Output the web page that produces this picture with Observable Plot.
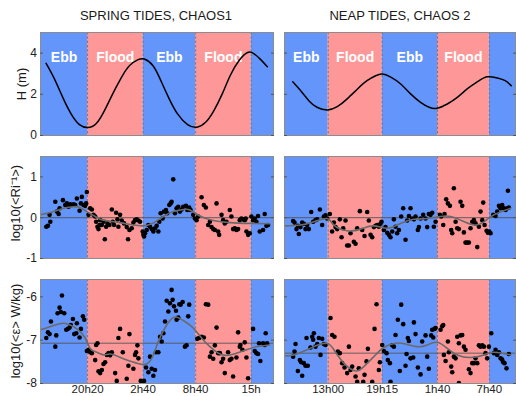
<!DOCTYPE html>
<html><head><meta charset="utf-8">
<script src="https://cdn.jsdelivr.net/npm/d3@7"></script>
<script src="https://cdn.jsdelivr.net/npm/@observablehq/plot@0.6"></script>
<style>
body{margin:0;background:#fff;}
#chart{position:relative;width:516px;height:396px;font-family:"Liberation Sans",Arial,sans-serif;overflow:hidden;}
#chart svg{position:absolute;}
</style></head><body><div id="chart"></div>
<script>
// ---------- DATA ----------
const titles = ["SPRING TIDES, CHAOS1", "NEAP TIDES, CHAOS 2"];
const yLabels = ["H (m)", "log10(<Ri\u207B\u00B9>)", "log10(<\u03B5> W/kg)"];
const phases = ["Ebb", "Flood", "Ebb", "Flood", "Ebb"];

// time axis in hours (from start of first day)
const leftDomain = [14.96, 41.55];
const leftTicks = [20 + 20/60, 26 + 40/60, 32 + 40/60, 39];
const leftTickLabels = ["20h20", "2h40", "8h40", "15h"];
const rightDomain = [7.94, 34.7];
const rightTicks = [13, 19.25, 25 + 40/60, 31 + 40/60];
const rightTickLabels = ["13h00", "19h15", "1h40", "7h40"];

const hTicks = [0, 2, 4];
const riTicks = [-1, 0, 1];
const epsTicks = [-8, -7, -6];
const riMean = [0, 0];
const epsMean = [-7.07, -7.30];

// tide height H (m)
const tideLeft = [[15.6,3.50],[16.56,2.74],[17.5,1.85],[18.45,1.05],[19.4,0.53],[20.35,0.39],[21.3,0.57],[22.26,1.21],[23.2,2.02],[24.2,2.82],[25.1,3.39],[26.1,3.68],[26.8,3.71],[27.8,3.39],[28.7,2.66],[29.65,1.78],[30.6,1.05],[31.75,0.53],[32.8,0.40],[33.8,0.64],[34.75,1.21],[35.7,2.02],[36.6,2.90],[37.6,3.63],[38.6,4.03],[39.3,3.98],[40.0,3.72],[40.85,3.34]];
const tideRight = [[8.9,2.61],[9.8,2.18],[10.76,1.69],[11.7,1.37],[12.9,1.24],[14.05,1.40],[15.2,1.78],[16.4,2.26],[17.5,2.66],[18.5,2.90],[19.25,2.98],[20.2,2.85],[21.4,2.50],[22.55,2.02],[23.7,1.61],[24.7,1.37],[25.6,1.32],[26.8,1.53],[27.95,1.85],[29.1,2.26],[30.3,2.61],[31.4,2.85],[32.6,2.79],[33.5,2.66],[34.2,2.42]];

// log10(<Ri^-1>) samples
const riLeft = [[15.62,-0.22],[15.81,-0.20],[16.08,-0.10],[16.0,0.07],[16.65,0.39],[16.84,0.15],[17.03,0.09],[17.14,0.23],[17.52,0.43],[17.78,0.31],[17.97,0.35],[18.16,0.27],[18.35,0.33],[18.54,0.31],[18.73,0.33],[18.92,0.31],[19.11,0.47],[19.42,0.17],[19.57,0.35],[19.68,0.51],[19.87,0.31],[20.06,0.29],[20.25,0.63],[20.17,0.35],
[20.44,0.07],[20.63,0.23],[20.82,0.20],[21.01,0.07],[21.2,0.03],[21.31,-0.10],[21.46,-0.22],[21.58,-0.28],[21.69,-0.18],[21.77,-0.06],[21.96,-0.18],[22.15,-0.10],[22.3,-0.53],[22.45,-0.22],[22.6,-0.14],[22.83,-0.18],[23.1,0.20],[23.21,-0.10],[23.36,-0.18],[23.59,0.12],[23.74,-0.04],[23.85,-0.22],[24.04,0.07],[24.23,-0.07],[24.5,-0.14],[24.8,-0.23],[24.95,-0.53],[25.11,-0.30],[25.37,-0.26],[25.56,-0.12],[25.75,-0.06],[25.94,-0.04],[26.13,-0.07],[26.32,-0.10],
[26.62,-0.34],[26.7,-0.42],[26.78,-0.46],[26.89,-0.38],[27.08,-0.30],[27.27,-0.18],[27.46,-0.22],[27.65,-0.28],[27.84,-0.34],[28.03,-0.26],[28.22,-0.20],[28.41,-0.34],[28.52,-0.10],[28.67,0.11],[28.9,-0.02],[29.05,0.15],[29.28,0.19],[29.43,0.11],[29.66,0.31],[29.81,0.35],[29.92,0.39],[30.11,0.94],[30.3,0.11],[30.49,0.23],[30.68,0.27],[30.87,0.15],[31.06,0.20],[31.25,0.27],[31.56,0.29],[31.71,0.19],[31.93,0.25],[32.09,0.19],
[32.39,0.07],[32.58,-0.02],[32.77,-0.06],[32.96,0.03],[33.34,0.50],[33.6,0.31],[33.83,0.25],[34.1,-0.18],[34.29,-0.10],[34.48,-0.23],[34.67,-0.28],[34.86,-0.30],[35.05,0.35],[35.24,-0.34],[35.35,-0.42],[35.62,0.07],[35.8,-0.06],[35.99,-0.14],[36.18,-0.10],[36.56,0.19],[36.75,0.03],[36.94,-0.28],[37.13,-0.26],[37.32,-0.30],[37.51,-0.28],[37.7,-0.06],[37.89,-0.02],[38.08,-0.04],[38.27,-0.06],[38.38,-0.02],[38.46,-0.34],[38.65,-0.42],[38.84,-0.38],
[39.03,0.03],[39.22,-0.06],[39.41,-0.02],[39.6,-0.10],[39.79,0.04],[39.98,-0.34],[40.36,-0.30],[40.55,0.09],[40.74,-0.20],[40.93,-0.18]];
const riRight = [[8.94,-0.08],[9.1,-0.12],[9.33,-0.28],[9.49,-0.20],[9.6,-0.40],[9.79,-0.23],[9.99,-0.12],[10.18,-0.15],[10.37,-0.28],[10.57,-0.18],[10.76,-0.28],[11.03,0.14],[11.26,-0.10],[11.53,-0.06],[11.73,-0.04],[12.04,0.20],[12.3,-0.18],[12.5,0.03],[12.69,0.06],[12.88,-0.02],
[13.19,0.09],[13.46,-0.34],[13.66,-0.12],[13.85,-0.23],[14.04,-0.28],[14.35,-0.04],[14.55,-0.48],[14.74,-0.26],[15.01,-0.07],[15.2,-0.68],[15.4,-0.68],[15.59,-0.38],[15.97,-0.59],[16.17,-0.64],[16.36,-0.26],[16.67,0.16],[16.94,-0.30],[17.21,-0.45],[17.52,0.14],[17.71,-0.07],[17.91,-0.42],[18.1,-0.48],[18.29,-0.23],[18.49,-0.20],[18.68,-0.18],[18.87,-0.22],[19.06,-0.15],[19.18,-0.10],
[19.45,-0.30],[19.64,-0.23],[19.84,-0.37],[20.03,-0.42],[20.22,-0.48],[20.42,-0.34],[20.61,-0.04],[20.8,-0.22],[20.99,-0.38],[21.19,-0.30],[21.46,0.03],[21.69,0.23],[21.96,-0.54],[22.15,-0.07],[22.35,0.04],[22.54,0.23],[22.73,-0.02],[22.93,-0.04],[23.12,0.03],[23.39,-0.30],[23.51,-0.23],[23.7,-0.02],[24.01,0.07],[24.28,-0.02],[24.47,-0.23],[24.66,0.09],[24.86,0.07],[25.05,0.12],[25.24,-0.22],[25.44,-0.10],
[25.94,0.07],[26.09,0.03],[26.33,-0.18],[26.48,0.09],[26.67,0.45],[26.87,0.35],[27.1,0.29],[27.25,-0.30],[27.37,-0.38],[27.56,0.72],[27.76,-0.10],[27.95,-0.26],[28.14,-0.28],[28.33,0.39],[28.53,0.29],[28.72,-0.36],[28.91,-0.61],[29.11,-0.61],[29.3,-0.61],[29.49,-0.26],[29.69,-0.10],[29.88,-0.06],[30.07,-0.14],[30.27,-0.72],[30.46,-0.22],[30.65,0.15],[30.85,-0.06],[30.96,0.37],[31.12,-0.18],[31.35,-0.32],[31.5,-0.37],[31.66,-0.34],[31.81,-0.38],
[32.12,0.07],[32.39,0.04],[32.58,0.15],[32.78,0.29],[32.97,0.23],[33.16,0.31],[33.36,0.23],[33.55,0.19],[33.74,0.23],[33.93,0.25],[33.82,0.66]];
const riSmoothLeft = [[14.96,0.07],[16.46,0.15],[17.6,0.23],[18.73,0.27],[19.49,0.25],[20.25,0.15],[21.2,0.03],[22.15,-0.06],[24.04,-0.12],[25.56,-0.18],[26.62,-0.20],[27.65,-0.15],[28.98,0.03],[30.11,0.15],[31.25,0.20],[32.01,0.19],[33.15,0.04],[34.67,-0.07],[36.56,-0.12],[38.84,-0.14],[41.12,-0.15]];
const riSmoothRight = [[7.94,-0.20],[9.79,-0.18],[11.34,-0.10],[12.88,-0.02],[13.66,-0.18],[15.2,-0.32],[16.75,-0.28],[18.29,-0.20],[19.84,-0.26],[21.38,-0.14],[22.93,-0.04],[24.47,-0.02],[26.02,0.03],[27.18,0.03],[28.33,-0.06],[29.88,-0.18],[31.04,-0.10],[32.2,0.07],[34.13,0.23]];

// log10(<eps>) samples
const epsLeft = [[15.62,-6.95],[15.81,-6.82],[16.0,-6.86],[16.15,-6.57],[16.65,-7.15],[16.76,-6.89],[16.91,-6.38],[17.14,-6.25],[17.41,-5.97],[17.29,-6.35],[17.67,-6.38],[17.9,-6.76],[18.09,-6.74],[18.28,-6.71],[18.43,-6.65],[18.66,-6.51],[18.81,-6.86],[19.04,-6.84],[19.11,-6.61],[19.42,-6.94],[19.57,-6.74],[19.8,-6.45],[19.95,-6.53],
[20.25,-7.25],[20.44,-7.22],[20.63,-7.28],[20.82,-7.30],[21.2,-7.46],[21.31,-7.11],[21.46,-7.07],[21.58,-7.72],[21.77,-7.76],[21.96,-7.69],[22.15,-7.55],[22.34,-7.51],[22.53,-7.34],[22.72,-7.30],[22.91,-7.35],[23.1,-7.28],[23.48,-7.76],[23.66,-7.94],[23.85,-6.95],[24.04,-6.74],[24.35,-7.28],[24.8,-7.89],[24.99,-7.59],[25.11,-6.86],[25.56,-7.66],[25.75,-7.34],[25.87,-7.28],[26.02,-7.12],[26.13,-7.42],[26.4,-7.94],
[26.62,-7.97],[26.78,-7.94],[27.0,-7.63],[27.27,-7.74],[27.46,-7.38],[27.65,-7.66],[27.84,-7.82],[28.03,-7.69],[28.14,-7.28],[28.41,-7.28],[28.6,-6.92],[28.79,-7.03],[28.98,-6.84],[29.17,-6.57],[29.36,-6.09],[29.55,-6.34],[29.73,-6.15],[29.92,-5.84],[30.04,-6.07],[30.19,-6.22],[30.42,-6.32],[30.49,-6.53],[30.68,-6.48],[30.8,-6.17],[30.95,-6.18],[31.18,-6.12],[31.44,-7.15],[31.63,-7.12],[31.82,-6.45],[31.93,-6.18],
[32.85,-6.97],[33.07,-6.95],[33.34,-6.92],[33.6,-6.94],[33.83,-6.17],[34.1,-6.18],[34.29,-7.38],[34.48,-7.28],[34.67,-7.43],[34.86,-7.12],[35.05,-6.71],[35.24,-7.30],[35.43,-7.30],[35.62,-7.51],[35.8,-7.43],[35.99,-7.76],[36.37,-7.28],[36.56,-7.46],[36.75,-7.43],[36.94,-7.84],[37.32,-7.40],[37.51,-6.82],[37.7,-7.15],[37.78,-7.11],[38.0,-7.22],[38.27,-7.05],[38.46,-7.40],[38.65,-7.88],
[39.22,-6.74],[39.41,-7.25],[39.6,-7.30],[39.79,-7.32],[39.9,-7.07],[40.05,-7.48],[40.36,-7.07],[40.55,-7.11],[40.66,-6.84],[40.81,-7.07]];
const epsRight = [[8.94,-7.38],[9.1,-7.26],[9.22,-7.09],[9.49,-7.71],[9.72,-7.46],[9.87,-7.51],[9.99,-7.82],[10.18,-7.53],[10.37,-7.59],[10.49,-6.95],[10.64,-7.59],[10.95,-7.17],[11.15,-6.92],[11.26,-6.99],[11.34,-6.84],[11.53,-7.15],[11.73,-7.09],[11.92,-6.95],[12.11,-7.34],[12.31,-6.97],[12.5,-7.09],[12.69,-7.11],
[13.27,-6.49],[13.46,-6.88],[13.73,-6.92],[14.12,-7.26],[14.35,-7.30],[14.62,-7.53],[14.89,-7.63],[15.2,-7.76],[15.4,-7.15],[15.59,-7.69],[15.78,-7.61],[16.17,-7.84],[16.36,-7.96],[16.55,-7.65],[17.06,-7.96],[17.21,-7.80],[17.44,-7.49],[17.6,-7.20],[18.1,-7.96],[18.37,-6.74],[18.6,-6.17],[18.87,-7.69],[18.99,-7.51],
[19.26,-7.11],[19.45,-7.25],[19.76,-7.30],[19.91,-7.46],[20.15,-7.53],[20.22,-7.96],[20.42,-7.12],[20.61,-7.15],[20.8,-6.88],[21.07,-6.53],[21.3,-7.71],[21.46,-6.18],[21.69,-6.63],[21.96,-7.59],[22.08,-7.32],[22.23,-6.95],[22.35,-7.02],[22.54,-7.42],[22.85,-7.40],[22.93,-6.59],[23.12,-6.86],[23.39,-7.63],[23.7,-7.79],[23.89,-7.03],[24.28,-6.89],[24.47,-7.38],[24.66,-7.66],[24.93,-6.89],[25.05,-6.76],[25.17,-6.94],[25.32,-6.74],[25.44,-6.72],
[26.02,-6.76],[26.21,-6.68],[26.33,-6.65],[26.4,-7.34],[26.6,-7.48],[26.87,-7.03],[26.98,-7.28],[27.25,-7.61],[27.37,-7.74],[27.56,-7.38],[27.76,-7.42],[27.95,-6.92],[28.14,-7.07],[28.14,-7.99],[28.33,-6.89],[28.53,-6.88],[28.72,-7.15],[28.91,-7.22],[29.3,-7.67],[29.49,-7.76],[29.69,-7.53],[29.88,-7.53],[30.07,-7.42],[30.27,-7.53],[30.46,-7.12],[30.65,-7.15],[30.85,-7.12],[31.04,-7.15],[31.23,-7.30],[31.42,-7.42],[31.62,-7.15],
[31.89,-6.84],[32.2,-7.30],[32.39,-7.22],[32.58,-7.34],[32.78,-7.28],[32.97,-7.42],[33.16,-7.45],[33.28,-7.51],[33.43,-7.53],[33.66,-7.65],[33.93,-7.32]];
const epsSmoothLeft = [[14.96,-6.76],[16.46,-6.66],[17.6,-6.61],[18.35,-6.65],[19.11,-6.74],[20.06,-6.95],[20.63,-7.19],[21.39,-7.28],[22.15,-7.34],[22.91,-7.32],[23.85,-7.38],[24.8,-7.46],[25.94,-7.53],[26.89,-7.56],[27.65,-7.42],[28.41,-7.03],[29.36,-6.65],[30.11,-6.48],[30.68,-6.48],[31.44,-6.57],[32.39,-6.72],[33.34,-6.95],[34.29,-7.15],[35.24,-7.30],[36.18,-7.35],[37.32,-7.30],[38.46,-7.22],[39.6,-7.15],[41.12,-7.11]];
const epsSmoothRight = [[7.94,-7.36],[9.02,-7.34],[10.57,-7.22],[11.73,-7.12],[12.88,-7.07],[13.66,-7.22],[14.81,-7.53],[16.17,-7.71],[17.13,-7.61],[18.29,-7.38],[19.45,-7.17],[20.8,-7.07],[21.96,-7.09],[23.31,-7.15],[24.47,-7.11],[25.63,-7.05],[26.79,-7.19],[27.95,-7.34],[29.49,-7.40],[31.04,-7.34],[32.2,-7.28],[34.13,-7.34]];

// ---------- LAYOUT / STYLE ----------
const BLUE = "#6395fb", PINK = "#fe9898";
const chart = document.getElementById("chart");
const FONT = "Liberation Sans, Arial, Helvetica, sans-serif";

const cols = [
  {domain: leftDomain, ticks: leftTicks, labels: leftTickLabels, left: 0, width: 276, ml: 40, mr: 3, showY: true,
   tide: tideLeft, ri: riLeft, riS: riSmoothLeft, eps: epsLeft, epsS: epsSmoothLeft, riM: riMean[0], epsM: epsMean[0]},
  {domain: rightDomain, ticks: rightTicks, labels: rightTickLabels, left: 276, width: 240, ml: 8, mr: 1, showY: false,
   tide: tideRight, ri: riRight, riS: riSmoothRight, eps: epsRight, epsS: epsSmoothRight, riM: riMean[1], epsM: epsMean[1]}
];
const rows = [
  {top: 0, height: 140, mt: 32, mb: 5, yDomain: [0, 5], yTicks: hTicks},
  {top: 140, height: 124, mt: 16, mb: 6, yDomain: [-1, 1.5], yTicks: riTicks},
  {top: 264, height: 132, mt: 15, mb: 13, yDomain: [-8, -5.6], yTicks: epsTicks}
];

function bandsOf(col) {
  const edges = [col.domain[0], ...col.ticks, col.domain[1]];
  return phases.map((p, i) => ({phase: p, x1: edges[i], x2: edges[i + 1]}));
}

cols.forEach((col, ci) => {
  const bands = bandsOf(col);
  rows.forEach((row, ri) => {
    const marks = [
      Plot.rect(bands.filter(b => b.phase === "Ebb"), {x1: "x1", x2: "x2", fill: BLUE}),
      Plot.rect(bands.filter(b => b.phase === "Flood"), {x1: "x1", x2: "x2", fill: PINK}),
      Plot.ruleX(col.ticks, {stroke: "#6f6f80", strokeWidth: 0.9, strokeDasharray: "2.5,1.8"})
    ];
    if (ri === 0) {
      marks.push(Plot.text(bands.slice(0, 4), {x: d => (d.x1 + d.x2) / 2, text: "phase", frameAnchor: "top", dy: 20,
        fill: "white", fontWeight: "bold", fontSize: 14}));
      marks.push(Plot.line(col.tide, {x: d => d[0], y: d => d[1], curve: "natural", stroke: "black", strokeWidth: 1.5, clip: true}));
    } else {
      const pts = ri === 1 ? col.ri : col.eps;
      const sm = ri === 1 ? col.riS : col.epsS;
      const m = ri === 1 ? col.riM : col.epsM;
      marks.push(Plot.ruleY([m], {stroke: "#555", strokeWidth: 0.9}));
      marks.push(Plot.dot(pts, {x: d => d[0], y: d => d[1], r: 2.3, fill: "black", stroke: "none", clip: true}));
      marks.push(Plot.line(sm, {x: d => d[0], y: d => d[1], curve: "natural", stroke: "#6a6a6a", strokeWidth: 1.6, clip: true}));
    }
    marks.push(Plot.frame({stroke: "#8c8c8c", strokeWidth: 1}));
    marks.push(Plot.axisY(row.yTicks, {anchor: "left", tickSize: -3, tickPadding: 6.5, stroke: "#555",
      tickFormat: col.showY ? (d => String(d)) : (() => ""), fontSize: 12, fill: "#222"}));
    marks.push(Plot.axisY(row.yTicks, {anchor: "right", tickSize: -3, tickFormat: () => "", stroke: "#555"}));
    if (ri === 2) {
      marks.push(Plot.axisX(col.ticks, {anchor: "bottom", tickSize: 0, tickPadding: 1.5,
        tickFormat: d => col.labels[col.ticks.indexOf(d)], fontSize: 11.5, fill: "#222"}));
    }
    const svg = Plot.plot({
      width: col.width, height: row.height,
      marginLeft: col.ml, marginRight: col.mr, marginTop: row.mt, marginBottom: row.mb,
      x: {domain: col.domain, axis: ri === 2 ? undefined : null},
      y: {domain: row.yDomain},
      style: {fontFamily: FONT, fontSize: "12px", background: "transparent", overflow: "visible"},
      marks
    });
    svg.style.position = "absolute";
    svg.style.left = col.left + "px";
    svg.style.top = row.top + "px";
    chart.appendChild(svg);
  });
});

// overlay texts: titles and y labels
const ns = "http://www.w3.org/2000/svg";
const ov = document.createElementNS(ns, "svg");
ov.setAttribute("width", 516); ov.setAttribute("height", 396);
ov.style.position = "absolute"; ov.style.left = "0"; ov.style.top = "0"; ov.style.pointerEvents = "none";
ov.style.fontFamily = FONT;
function addText(str, x, y, size, rot) {
  const t = document.createElementNS(ns, "text");
  t.setAttribute("x", x); t.setAttribute("y", y);
  t.setAttribute("text-anchor", "middle");
  t.setAttribute("dominant-baseline", "central");
  t.setAttribute("font-size", size);
  t.setAttribute("fill", "#1a1a1a");
  if (rot) t.setAttribute("transform", `rotate(-90 ${x} ${y})`);
  t.textContent = str;
  ov.appendChild(t);
}
addText(titles[0], 156, 15, 13);
addText(titles[1], 400, 15, 13);
addText(yLabels[0], 21.5, 84, 13, true);
addText(yLabels[1], 15, 203, 13, true);
addText(yLabels[2], 15.5, 331, 13, true);
chart.appendChild(ov);
</script></body></html>
